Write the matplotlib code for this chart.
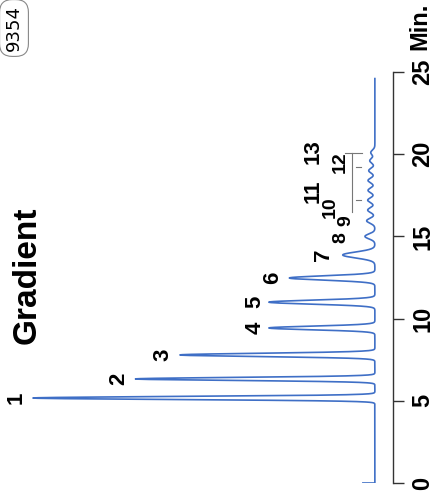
import numpy as np
import matplotlib
matplotlib.use("Agg")
import matplotlib.pyplot as plt

# peak table (time in min, relative height, width)
peak_ids = ["1", "2", "3", "4", "5", "6", "7", "8", "9", "10", "11", "12", "13"]
peak_times = [5.17, 6.33, 7.79, 9.43, 11.0, 12.47, 13.87, 15.0, 15.95, 16.6, 17.2, 17.8, 18.4]
peak_heights = [100, 70, 57, 31, 31, 25, 9.4, 2.9, 2.4, 2.1, 2.1, 2.0, 2.0]
peak_widths = [0.09, 0.09, 0.10, 0.11, 0.12, 0.13, 0.18, 0.15, 0.15, 0.15, 0.15, 0.15, 0.15]

# trailing small ripples after the numbered peaks
ripple_times = [19.0, 19.6, 20.1]
ripple_heights = [1.8, 1.5, 1.2]

# label positions (signal, time)
label_sig = [105, 75, 62, 35, 35, 30, 15, 10, 8.5, 13, 18, 10, 18]
label_time = [5.17, 6.33, 7.79, 9.43, 11.0, 12.47, 13.9, 14.95, 15.95, 16.8, 17.75, 19.5, 20.15]

time_ticks = [0, 5, 10, 15, 20, 25]
run_end = 24.6
start_spike = 3.5

fig = plt.figure(figsize=(4.34, 5.04), dpi=100)
ax = fig.add_axes([0, 21 / 504, 393 / 434, 411 / 504])

t = np.linspace(0, run_end, 4000)
sig = np.zeros_like(t)
for tp, h, w in zip(peak_times, peak_heights, peak_widths):
    sig += h * np.exp(-0.5 * ((t - tp) / w) ** 2)
for tp, h in zip(ripple_times, ripple_heights):
    sig += h * np.exp(-0.5 * ((t - tp) / 0.15) ** 2)
t = np.concatenate([[0], t])
sig = np.concatenate([[start_spike], sig])

# rotated chromatogram: time runs up, signal runs left
ax.plot(sig, t, color="#3f6fc6", lw=1.2)

for name, s, tt in zip(peak_ids, label_sig, label_time):
    fs = 14 if name in ("10", "12", "8", "9") else 16
    ax.text(s, tt, name, rotation=90, ha="center", va="center",
            fontsize=fs, fontweight="bold", family="Liberation Sans")

# small marker lines near the late peaks
mk = "#777777"
ax.plot([6.7, 6.7], [16.5, 20.1], color=mk, lw=0.8)
ax.plot([8.8, 3.8], [20.1, 20.1], color=mk, lw=0.8)
ax.plot([5.6, 4.1], [19.2, 19.2], color=mk, lw=0.8)
ax.plot([5.6, 4.1], [17.2, 17.2], color=mk, lw=0.8)

ax.set_xlim(109.6, -5.3)
ax.set_ylim(0, 25)
for side in ["left", "top", "bottom"]:
    ax.spines[side].set_visible(False)
ax.spines["right"].set_color("#333333")
ax.spines["right"].set_linewidth(1)
ax.set_xticks([])
ax.yaxis.tick_right()
ax.set_yticks(time_ticks)
ax.set_yticklabels([str(v) for v in time_ticks], rotation=90, va="center",
                   fontsize=17, fontweight="bold", family="Liberation Sans")
ax.tick_params(axis="y", direction="out", length=8, width=1, color="#333333", pad=5)
ax.text(1.069, 27.75, "Min.", transform=ax.get_yaxis_transform(), rotation=90,
        ha="center", va="center", fontsize=17, fontweight="bold",
        family="Liberation Sans", clip_on=False)

fig.text(27 / 434, 1 - 275 / 504, "Gradient", rotation=90, ha="center", va="center",
         fontsize=24, fontweight="bold", family="Liberation Sans")
fig.text(14 / 434, 1 - 28 / 504, "9354", rotation=90, ha="center", va="center",
         fontsize=13, family="DejaVu Sans",
         bbox=dict(boxstyle="round,pad=0.3,rounding_size=0.7", fc="white", ec="#888888", lw=0.8))

fig.savefig("out.png", dpi=100)
